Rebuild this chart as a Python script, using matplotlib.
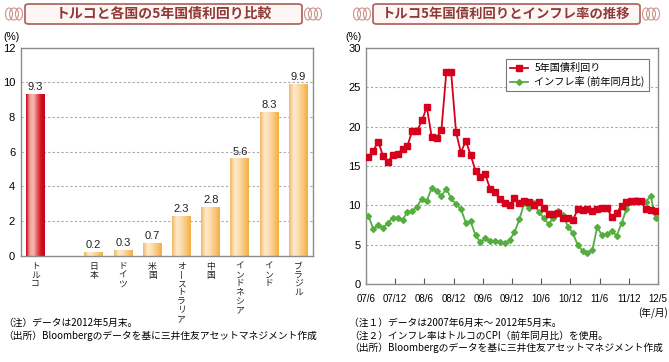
import numpy as np
import matplotlib
matplotlib.use("Agg")
import matplotlib.pyplot as plt
from matplotlib.colors import LinearSegmentedColormap
from matplotlib.patches import FancyBboxPatch, Ellipse
from matplotlib.transforms import blended_transform_factory

plt.rcParams['font.family'] = ['Liberation Sans', 'Noto Sans CJK JP', 'DejaVu Sans']
JP = ['Noto Sans CJK JP', 'DejaVu Sans']

# left chart data
countries = ["トルコ", "", "日本", "ドイツ", "米国", "オーストラリア", "中国", "インドネシア", "インド", "ブラジル"]
yields = [9.3, None, 0.2, 0.3, 0.7, 2.3, 2.8, 5.6, 8.3, 9.9]

# right chart data (monthly, 07/6 .. 12/5)
bond_yield = [16.2, 16.95, 18.1, 16.3, 15.5, 16.4, 16.5, 17.2, 17.5, 19.5,
              19.45, 20.8, 22.5, 18.7, 18.55, 19.6, 26.9, 26.9, 19.3, 16.7,
              18.2, 16.4, 14.4, 13.65, 13.95, 12.1, 11.65, 10.8, 10.3, 10.0,
              10.9, 10.35, 10.6, 10.4, 10.1, 10.45, 9.7, 8.95, 8.95, 9.0,
              8.4, 8.4, 8.1, 9.5, 9.4, 9.5, 9.3, 9.5, 9.7, 9.6,
              8.55, 9.0, 9.95, 10.4, 10.55, 10.5, 10.5, 9.5, 9.45, 9.3]
inflation = [8.7, 6.95, 7.5, 7.15, 7.7, 8.45, 8.45, 8.15, 9.15, 9.25,
             9.85, 10.85, 10.6, 12.2, 11.8, 11.2, 12.1, 10.9, 10.15, 9.55,
             7.8, 7.95, 6.2, 5.3, 5.8, 5.45, 5.45, 5.4, 5.15, 5.6,
             6.55, 8.2, 10.25, 9.6, 10.25, 9.1, 8.45, 7.6, 8.45, 9.3,
             8.8, 7.3, 6.5, 4.95, 4.25, 4.0, 4.3, 7.2, 6.2, 6.35,
             6.75, 6.15, 7.7, 9.5, 10.45, 10.7, 10.55, 10.45, 11.2, 8.35]
month_labels = ["07/6", "07/12", "08/6", "08/12", "09/6", "09/12",
                "10/6", "10/12", "11/6", "11/12", "12/5"]

W, H = 669, 362
fig = plt.figure(figsize=(W / 100, H / 100), dpi=100)


def fx(x):
    return x / W


def fy(y):
    return 1 - y / H


spine_col = "#8c8c8c"
grid_col = "#a8a8a8"
title_col = "#8e3a36"
frame_col = "#b06a62"


def banner(x0, x1, text, size):
    y0, y1 = 4, 24
    box = FancyBboxPatch((fx(x0), fy(y1)), fx(x1 - x0), fy(y0) - fy(y1),
                         boxstyle="round,pad=0,rounding_size=0.006",
                         transform=fig.transFigure, facecolor="#fdf6f4",
                         edgecolor=frame_col, linewidth=1.3)
    fig.patches.append(box)
    for cx in (x0 - 11, x1 + 11):
        for dx, w in ((-5, 7), (0, 9), (5, 7)):
            e = Ellipse((fx(cx + dx), fy(14)), fx(w), (fy(8) - fy(20)),
                        transform=fig.transFigure, facecolor="none",
                        edgecolor="#c9928a", linewidth=0.8)
            fig.patches.append(e)
    fig.text(fx((x0 + x1) / 2), fy(14), text, ha="center", va="center",
             fontsize=size, fontweight="bold", color=title_col, family=JP)


banner(25, 302, "トルコと各国の5年国債利回り比較", 10)
banner(373, 640, "トルコ5年国債利回りとインフレ率の推移", 9.6)

# ---------------- left chart ----------------
ax1 = fig.add_axes([fx(20.7), fy(255.7), fx(292.3), fy(47.7) - fy(255.7)])
red_cmap = LinearSegmentedColormap.from_list(
    "r", ["#c8001a", "#eea49c", "#f2b9b1", "#e45a5c", "#d1121f", "#c8001a"])
org_cmap = LinearSegmentedColormap.from_list(
    "o", ["#f1b865", "#fdebcf", "#fbdcaa", "#f8c675", "#f3ad45"])
grad = np.linspace(0, 1, 64).reshape(1, -1)
bw = 0.65
lab_tr = blended_transform_factory(ax1.transData, fig.transFigure)
for i, v in enumerate(yields):
    if v is None:
        continue
    cmap = red_cmap if i == 0 else org_cmap
    ax1.imshow(grad, cmap=cmap, aspect="auto", zorder=2,
               extent=[i - bw / 2, i + bw / 2, 0, v], interpolation="bicubic")
    ax1.text(i, v + 0.12, f"{v:.1f}", ha="center", va="bottom", fontsize=8,
             color="#222222", zorder=3)
    # vertical (tategaki) country name, one character per line
    vert = "\n".join("丨" if ch == "ー" else ch for ch in countries[i])
    fig.text(i, fy(262), vert, transform=lab_tr, ha="center", va="top",
             multialignment="center", linespacing=0.95, fontsize=6.3,
             color="#222222", family=JP)
ax1.set_xlim(-0.5, 9.5)
ax1.set_ylim(0, 12)
ax1.set_yticks(range(0, 13, 2))
ax1.set_xticks([])
ax1.tick_params(axis="y", length=0, labelsize=8, pad=4)
for y in range(2, 12, 2):
    ax1.axhline(y, color=grid_col, linestyle=(0, (2, 2)), linewidth=0.8, zorder=1)
for s in ax1.spines.values():
    s.set_color(spine_col)
    s.set_linewidth(1.0)
fig.text(fx(3), fy(37), "(%)", fontsize=7.5, va="center", ha="left")
fig.text(fx(3), fy(323), "（注）データは2012年5月末。", fontsize=7.0, va="center", family=JP)
fig.text(fx(3), fy(336), "（出所）Bloombergのデータを基に三井住友アセットマネジメント作成",
         fontsize=7.0, va="center", family=JP)

# ---------------- right chart ----------------
ax2 = fig.add_axes([fx(366), fy(284), fx(292), fy(48) - fy(284)])
x = np.arange(len(bond_yield))
ax2.plot(x, inflation, color="#55ad3f", linewidth=1.3, marker="D",
         markersize=3, label="インフレ率 (前年同月比)", zorder=3)
ax2.plot(x, bond_yield, color="#d6001c", linewidth=1.3, marker="s",
         markersize=3.8, label="5年国債利回り", zorder=4)
ax2.set_xlim(-0.5, 59.5)
ax2.set_ylim(0, 30)
ax2.set_yticks(range(0, 31, 5))
tick_pos = np.arange(-0.5, 60, 6)
ax2.set_xticks(tick_pos)
ax2.set_xticklabels(month_labels)
ax2.tick_params(axis="x", direction="in", length=4, color="#555555",
                labelsize=7, pad=7)
ax2.tick_params(axis="y", length=0, labelsize=8, pad=4)
for y in range(5, 30, 5):
    ax2.axhline(y, color=grid_col, linestyle=(0, (2, 2)), linewidth=0.8, zorder=1)
for s in ax2.spines.values():
    s.set_color(spine_col)
    s.set_linewidth(1.0)
h, l = ax2.get_legend_handles_labels()
leg = ax2.legend(h[::-1], l[::-1], loc="upper right",
                 frameon=True, fancybox=False, edgecolor="#555555",
                 borderpad=0.4, handlelength=1.8, handletextpad=0.6,
                 labelspacing=0.3, bbox_to_anchor=(0.985, 0.975),
                 prop={'family': JP, 'size': 7.3})
leg.get_frame().set_linewidth(0.8)
fig.text(fx(345), fy(37), "(%)", fontsize=7.5, va="center", ha="left")
fig.text(fx(668), fy(313), "(年/月)", fontsize=7, va="center", ha="right", family=JP)
fig.text(fx(349), fy(323), "（注１）データは2007年6月末～ 2012年5月末。", fontsize=7.0,
         va="center", family=JP)
fig.text(fx(349), fy(336), "（注２）インフレ率はトルコのCPI（前年同月比）を使用。",
         fontsize=7.0, va="center", family=JP)
fig.text(fx(349), fy(348), "（出所）Bloombergのデータを基に三井住友アセットマネジメント作成",
         fontsize=7.0, va="center", family=JP)

fig.savefig("out.png", dpi=100)
